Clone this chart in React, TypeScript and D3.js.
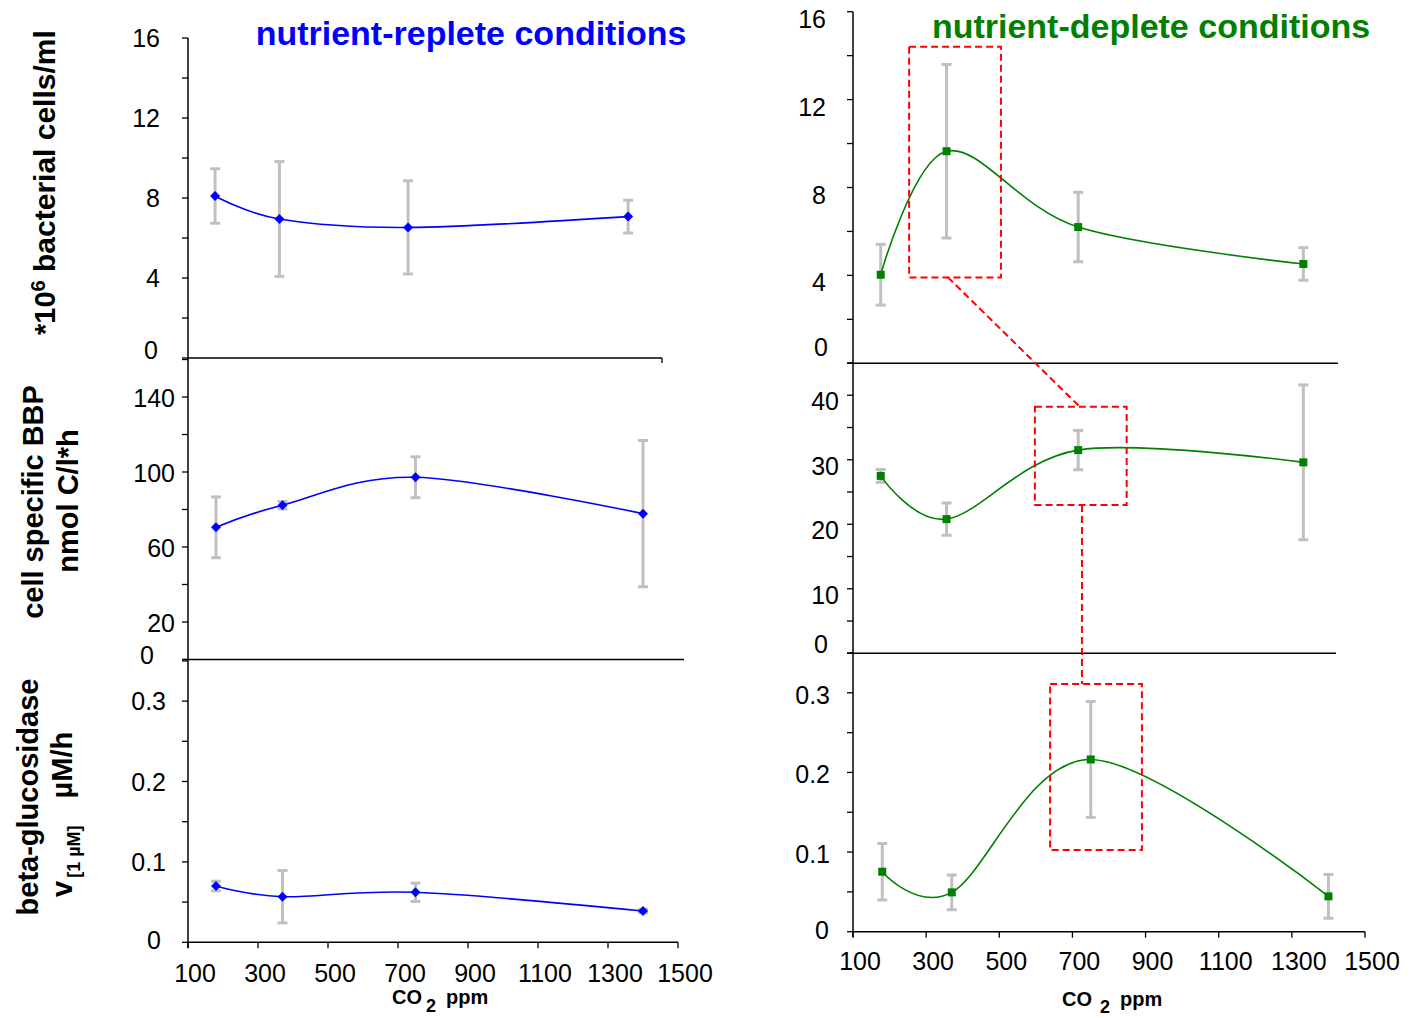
import React from 'react';
import * as d3 from 'd3';

// ---------------- data ----------------
const co2Ppm = [180, 370, 750, 1400];
const xTickValues = [100, 300, 500, 700, 900, 1100, 1300, 1500];

const cellsReplete = [8.1, 6.95, 6.53, 7.07];
const cellsRepleteErr = [1.36, 2.87, 2.33, 0.82];
const bbpReplete = [70.5, 82.3, 97.2, 77.8];
const bbpRepleteErr = [16.2, 2.0, 10.9, 39.0];
const glucReplete = [0.07, 0.0567, 0.0622, 0.039];
const glucRepleteErr = [0.006, 0.0326, 0.0114, 0.002];

const cellsDeplete = [4.03, 9.65, 6.2, 4.52];
const cellsDepleteErr = [1.38, 3.95, 1.58, 0.74];
const bbpDeplete = [27.5, 20.8, 31.5, 29.6];
const bbpDepleteErr = [1.0, 2.5, 3.05, 12.0];
const glucDeplete = [0.0753, 0.0494, 0.2163, 0.0444];
const glucDepleteErr = [0.0355, 0.0218, 0.0727, 0.0275];

const cellsTickLabels = [0, 4, 8, 12, 16];
const bbpRepleteTickLabels = [0, 20, 60, 100, 140];
const bbpDepleteTickLabels = [0, 10, 20, 30, 40];
const glucTickLabels = [0, 0.1, 0.2, 0.3];

// annotation boxes / connectors in data coordinates of the deplete panels
const highlightBoxes = [
  { panel: 'R1', x: [262, 527], y: [3.91, 14.41] },
  { panel: 'R2', x: [625, 890], y: [23.0, 38.2] },
  { panel: 'R3', x: [639, 890], y: [0.1026, 0.311] },
];
const connectors = [
  { from: { panel: 'R1', x: 374, y: 3.91 }, to: { panel: 'R2', x: 755, y: 38.2 } },
  { from: { panel: 'R2', x: 761, y: 23.0 }, to: { panel: 'R3', x: 726, y: 0.311 } },
];

// ---------------- layout ----------------
const FONT = 'Liberation Sans, Arial, Helvetica, sans-serif';
const BLUE = '#0000ff';
const GREEN = '#008000';
const ERR = '#c0c0c0';

type Cfg = {
  key: string;
  values: number[];
  errs: number[];
  color: string;
  marker: 'diamond' | 'square';
  xRange: [number, number];
  yRange: [number, number];
  yMax: number;
  tickStep: number;
  labels: number[];
  axisX: number;
  labelRight: number;
  labelDy: number;
  zeroRight: number;
  zeroDy: number;
  xLine: [number, number];
  xLineEndTick: boolean;
  xTicks: boolean;
  xLabelY: number;
};

const panels: Cfg[] = [
  {
    key: 'L1', values: cellsReplete, errs: cellsRepleteErr, color: BLUE, marker: 'diamond',
    xRange: [188, 662], yRange: [358, 38], yMax: 16, tickStep: 2, labels: cellsTickLabels,
    axisX: 188, labelRight: 160, labelDy: 0, zeroRight: 158, zeroDy: -8,
    xLine: [188, 662], xLineEndTick: true, xTicks: false, xLabelY: 0,
  },
  {
    key: 'L2', values: bbpReplete, errs: bbpRepleteErr, color: BLUE, marker: 'diamond',
    xRange: [188, 678], yRange: [659.5, 359.5], yMax: 160, tickStep: 20, labels: bbpRepleteTickLabels,
    axisX: 188, labelRight: 175, labelDy: 1, zeroRight: 154, zeroDy: -5,
    xLine: [183, 684], xLineEndTick: false, xTicks: false, xLabelY: 0,
  },
  {
    key: 'L3', values: glucReplete, errs: glucRepleteErr, color: BLUE, marker: 'diamond',
    xRange: [188, 678], yRange: [942.3, 660.9], yMax: 0.35, tickStep: 0.05, labels: glucTickLabels,
    axisX: 188, labelRight: 166, labelDy: 0, zeroRight: 161, zeroDy: -2,
    xLine: [188, 678], xLineEndTick: false, xTicks: true, xLabelY: 982,
  },
  {
    key: 'R1', values: cellsDeplete, errs: cellsDepleteErr, color: GREEN, marker: 'square',
    xRange: [853, 1338], yRange: [363.3, 11.7], yMax: 16, tickStep: 2, labels: cellsTickLabels,
    axisX: 853, labelRight: 826, labelDy: 7, zeroRight: 828, zeroDy: -16,
    xLine: [849, 1338], xLineEndTick: false, xTicks: false, xLabelY: 0,
  },
  {
    key: 'R2', values: bbpDeplete, errs: bbpDepleteErr, color: GREEN, marker: 'square',
    xRange: [853, 1338], yRange: [653.3, 363], yMax: 45, tickStep: 5, labels: bbpDepleteTickLabels,
    axisX: 853, labelRight: 839, labelDy: 6, zeroRight: 828, zeroDy: -9,
    xLine: [849, 1336], xLineEndTick: false, xTicks: false, xLabelY: 0,
  },
  {
    key: 'R3', values: glucDeplete, errs: glucDepleteErr, color: GREEN, marker: 'square',
    xRange: [853, 1365], yRange: [931.7, 653], yMax: 0.35, tickStep: 0.05, labels: glucTickLabels,
    axisX: 853, labelRight: 830, labelDy: 2, zeroRight: 829, zeroDy: -2,
    xLine: [853, 1365], xLineEndTick: false, xTicks: true, xLabelY: 970,
  },
];

function scalesFor(c: Cfg) {
  const x = d3.scaleLinear().domain([100, 1500]).range(c.xRange);
  const y = d3.scaleLinear().domain([0, c.yMax]).range(c.yRange);
  return { x, y };
}

const scaleMap: Record<string, { x: d3.ScaleLinear<number, number>; y: d3.ScaleLinear<number, number> }> = {};
panels.forEach((p) => (scaleMap[p.key] = scalesFor(p)));

function Panel({ c }: { c: Cfg }) {
  const { x, y } = scaleMap[c.key];
  const ticks = d3.range(0, c.yMax + 1e-9, c.tickStep);
  const line = d3
    .line<number>()
    .x((_, i) => x(co2Ppm[i]))
    .y((d) => y(d))
    .curve(d3.curveCardinal.tension(0));
  const fmt = (v: number) => (v === 0 ? '0' : String(+v.toFixed(2)));
  return (
    <g>
      {ticks.map((t, i) => (
        <line key={'t' + i} x1={c.axisX - 6} x2={c.axisX} y1={y(t)} y2={y(t)} stroke="#000" strokeWidth={1.3} />
      ))}
      {c.labels.map((v) => (
        <text
          key={'l' + v}
          x={v === 0 ? c.zeroRight : c.labelRight}
          y={y(v) + (v === 0 ? c.zeroDy : c.labelDy)}
          dy="0.36em"
          textAnchor="end"
          fontSize={25}
          fontFamily={FONT}
          fill="#000"
        >
          {fmt(v)}
        </text>
      ))}
      <line x1={c.xLine[0]} x2={c.xLine[1]} y1={c.yRange[0]} y2={c.yRange[0]} stroke="#000" strokeWidth={1.5} />
      {c.xLineEndTick && (
        <line x1={c.xLine[1]} x2={c.xLine[1]} y1={c.yRange[0]} y2={c.yRange[0] + 5} stroke="#000" strokeWidth={1.3} />
      )}
      {c.xTicks &&
        xTickValues.map((v) => (
          <g key={'x' + v}>
            <line x1={x(v)} x2={x(v)} y1={c.yRange[0]} y2={c.yRange[0] + 6} stroke="#000" strokeWidth={1.3} />
            <text x={x(v) + 7} y={c.xLabelY} textAnchor="middle" fontSize={25} fontFamily={FONT} fill="#000">
              {v}
            </text>
          </g>
        ))}
      {c.values.map((v, i) => {
        const cx = x(co2Ppm[i]);
        const y1 = y(v + c.errs[i]);
        const y2 = y(v - c.errs[i]);
        return (
          <g key={'e' + i} stroke={ERR} strokeWidth={3}>
            <line x1={cx} x2={cx} y1={y1} y2={y2} />
            <line x1={cx - 5} x2={cx + 5} y1={y1} y2={y1} />
            <line x1={cx - 5} x2={cx + 5} y1={y2} y2={y2} />
          </g>
        );
      })}
      <path d={line(c.values) || ''} fill="none" stroke={c.color} strokeWidth={1.6} />
      {c.values.map((v, i) => {
        const cx = x(co2Ppm[i]);
        const cy = y(v);
        return c.marker === 'diamond' ? (
          <path key={'m' + i} d={`M${cx},${cy - 5}L${cx + 5},${cy}L${cx},${cy + 5}L${cx - 5},${cy}Z`} fill={c.color} />
        ) : (
          <rect key={'m' + i} x={cx - 4} y={cy - 4} width={8} height={8} fill={c.color} />
        );
      })}
    </g>
  );
}

export default function App() {
  const px = (panel: string, v: number) => scaleMap[panel].x(v);
  const py = (panel: string, v: number) => scaleMap[panel].y(v);
  return (
    <svg
      width={1410}
      height={1018}
      viewBox="0 0 1410 1018"
      style={{ position: 'absolute', left: 0, top: 0, background: '#fff' }}
    >
      <rect width={1410} height={1018} fill="#fff" />
      <line x1={188} x2={188} y1={38} y2={948} stroke="#000" strokeWidth={1.5} />
      <line x1={853} x2={853} y1={11.7} y2={937} stroke="#000" strokeWidth={1.5} />

      {panels.map((p) => (
        <Panel key={p.key} c={p} />
      ))}

      {highlightBoxes.map((b, i) => {
        const x0 = px(b.panel, b.x[0]);
        const x1 = px(b.panel, b.x[1]);
        const y0 = py(b.panel, b.y[1]);
        const y1 = py(b.panel, b.y[0]);
        return (
          <rect
            key={'b' + i}
            x={x0}
            y={y0}
            width={x1 - x0}
            height={y1 - y0}
            fill="none"
            stroke="#ff0000"
            strokeWidth={2}
            strokeDasharray="7,4"
          />
        );
      })}
      {connectors.map((c, i) => (
        <line
          key={'c' + i}
          x1={px(c.from.panel, c.from.x)}
          y1={py(c.from.panel, c.from.y)}
          x2={px(c.to.panel, c.to.x)}
          y2={py(c.to.panel, c.to.y)}
          stroke="#ff0000"
          strokeWidth={2}
          strokeDasharray="7,4"
        />
      ))}

      <text x={471} y={45} textAnchor="middle" fontSize={34} fontWeight="bold" fontFamily={FONT} fill={BLUE}>
        nutrient-replete conditions
      </text>
      <text x={1151} y={38} textAnchor="middle" fontSize={34} fontWeight="bold" fontFamily={FONT} fill={GREEN}>
        nutrient-deplete conditions
      </text>

      <text transform="translate(55,335) rotate(-90)" textAnchor="start" fontSize={29} fontWeight="bold" fontFamily={FONT}>
        *10
        <tspan fontSize={20} dy={-10}>6</tspan>
        <tspan dy={10} fontSize={30}> bacterial cells/ml</tspan>
      </text>
      <text transform="translate(43,502) rotate(-90)" textAnchor="middle" fontSize={29} fontWeight="bold" fontFamily={FONT}>
        cell specific BBP
      </text>
      <text transform="translate(78,501) rotate(-90)" textAnchor="middle" fontSize={29} fontWeight="bold" fontFamily={FONT}>
        nmol C/l*h
      </text>
      <text transform="translate(38,797) rotate(-90)" textAnchor="middle" fontSize={29} fontWeight="bold" fontFamily={FONT}>
        beta-glucosidase
      </text>
      <text transform="translate(72,897) rotate(-90)" textAnchor="start" fontSize={29} fontWeight="bold" fontFamily={FONT}>
        v
        <tspan fontSize={18} dx={3} dy={8}>[1 µM]</tspan>
        <tspan dx={27} dy={-8}>µM/h</tspan>
      </text>

      <text x={392} y={1004} fontSize={20} fontWeight="bold" fontFamily={FONT}>
        CO
        <tspan fontSize={18} dx={4} dy={8}>2</tspan>
        <tspan dx={10} dy={-8}>ppm</tspan>
      </text>
      <text x={1062} y={1006} fontSize={20} fontWeight="bold" fontFamily={FONT}>
        CO
        <tspan fontSize={18} dx={8} dy={7}>2</tspan>
        <tspan dx={10} dy={-7}>ppm</tspan>
      </text>
    </svg>
  );
}
